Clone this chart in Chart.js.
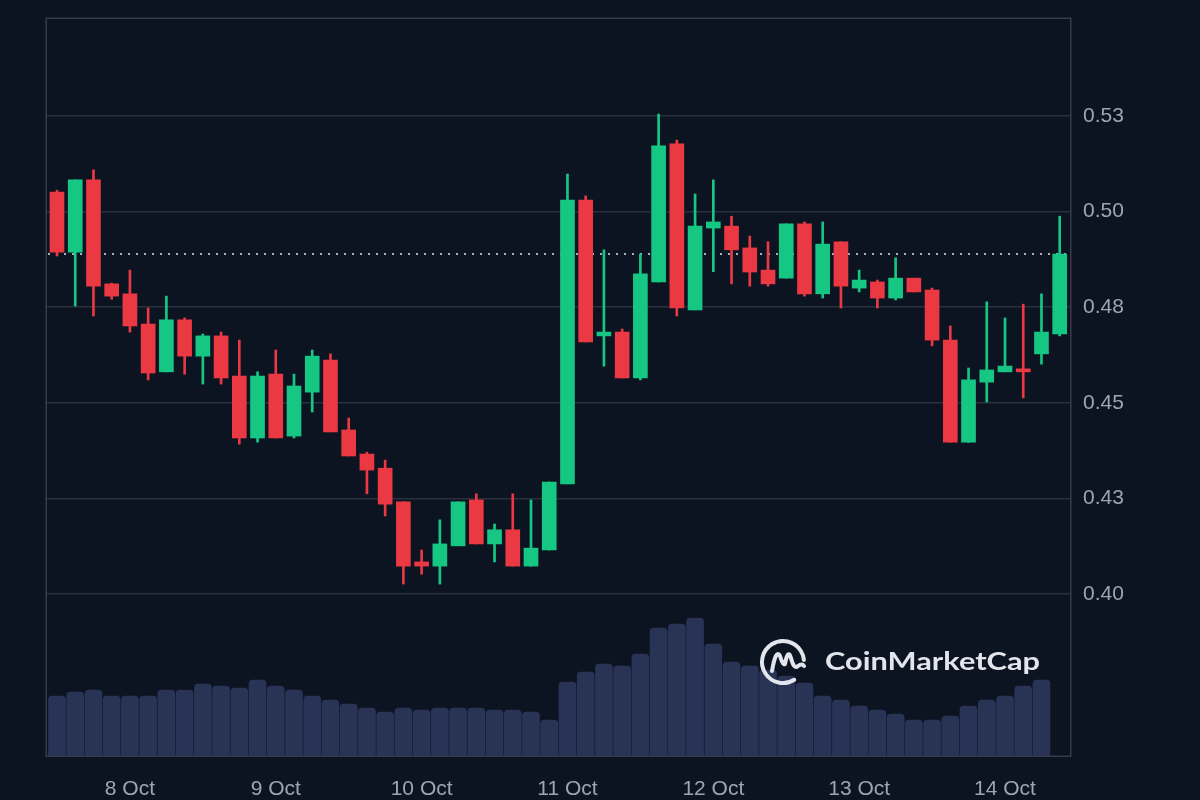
<!DOCTYPE html>
<html>
<head>
<meta charset="utf-8">
<script src="https://cdn.jsdelivr.net/npm/chart.js@4.4.1/dist/chart.umd.min.js"></script>
<style>
  html, body { margin: 0; padding: 0; background: #0d1421; }
  #wrap { width: 1200px; height: 800px; position: relative; }
  canvas { display: block; }
</style>
</head>
<body>
<div id="wrap"><canvas id="c" width="1200" height="800"></canvas></div>
<script>
// ---- Data (3-hour candles, 7 Oct 12:00 -> 14 Oct 09:00) ----
const opens  = [0.5051,0.4894,0.5083,0.4811,0.4785,0.4706,0.4581,0.4717,0.4622,0.4675,
                0.4570,0.4408,0.4575,0.4413,0.4528,0.4612,0.4429,0.4366,0.4329,0.4241,
                0.4084,0.4073,0.4126,0.4246,0.4131,0.4168,0.4073,0.4115,0.4288,0.5030,
                0.4675,0.4685,0.4565,0.4816,0.5177,0.4743,0.4957,0.4962,0.4905,0.4847,
                0.4826,0.4968,0.4785,0.4921,0.4800,0.4816,0.4774,0.4826,0.4795,0.4664,
                0.4397,0.4554,0.4581,0.4586,0.4628,0.4680];
const highs  = [0.5056,0.5083,0.5109,0.4813,0.4847,0.4748,0.4779,0.4722,0.4680,0.4685,
                0.4664,0.4581,0.4638,0.4575,0.4638,0.4628,0.4460,0.4371,0.4350,0.4241,
                0.4115,0.4194,0.4241,0.4262,0.4183,0.4262,0.4246,0.4293,0.5098,0.5041,
                0.4900,0.4693,0.4889,0.5255,0.5187,0.5046,0.5083,0.4988,0.4936,0.4921,
                0.4968,0.4973,0.4973,0.4921,0.4847,0.4821,0.4879,0.4826,0.4800,0.4701,
                0.4591,0.4764,0.4722,0.4758,0.4785,0.4988];
const lows   = [0.4884,0.4753,0.4727,0.4771,0.4685,0.4560,0.4581,0.4575,0.4549,0.4549,
                0.4392,0.4397,0.4408,0.4408,0.4476,0.4424,0.4361,0.4262,0.4204,0.4026,
                0.4052,0.4026,0.4126,0.4131,0.4084,0.4073,0.4073,0.4115,0.4288,0.4659,
                0.4596,0.4565,0.4560,0.4816,0.4727,0.4743,0.4843,0.4811,0.4805,0.4805,
                0.4826,0.4779,0.4774,0.4748,0.4790,0.4748,0.4769,0.4790,0.4649,0.4397,
                0.4397,0.4502,0.4581,0.4513,0.4601,0.4675];
const closes = [0.4894,0.5083,0.4805,0.4779,0.4701,0.4578,0.4717,0.4622,0.4675,0.4565,
                0.4408,0.4570,0.4408,0.4544,0.4622,0.4424,0.4361,0.4324,0.4235,0.4073,
                0.4073,0.4131,0.4241,0.4131,0.4168,0.4073,0.4120,0.4293,0.5030,0.4659,
                0.4685,0.4565,0.4837,0.5172,0.4748,0.4962,0.4973,0.4900,0.4842,0.4811,
                0.4968,0.4785,0.4915,0.4805,0.4821,0.4774,0.4826,0.4790,0.4664,0.4397,
                0.4560,0.4586,0.4596,0.4581,0.4685,0.4889];
// relative volume (no axis shown); last period has no bar
const volumes = [60,64,66,60,60,60,66,66,72,70,
                 68,76,70,66,60,56,52,48,44,48,
                 46,48,48,48,46,46,44,36,74,84,
                 92,90,102,128,132,138,112,94,90,86,
                 80,73,60,56,50,46,42,36,36,40,
                 50,56,60,70,76,null];
const dayTickIndex = [4, 12, 20, 28, 36, 44, 52];
const dayLabels = ['8 Oct', '9 Oct', '10 Oct', '11 Oct', '12 Oct', '13 Oct', '14 Oct'];
const priceTicks = [0.400, 0.425, 0.450, 0.475, 0.500, 0.525];
const priceTickLabels = ['0.40', '0.43', '0.45', '0.48', '0.50', '0.53'];

// ---- Styling ----
const BG = '#0d1421';
const GREEN = '#16c784';
const RED = '#ea3943';
const VOL = '#283355';
const GRID = '#2a2f3c';
const BORDER = '#363c4a';
const TICK = '#9ea4b5';
const FONT = '"Liberation Sans", Arial, sans-serif';

const idx = opens.map((_, i) => i);
const candleColors = idx.map(i => closes[i] >= opens[i] ? GREEN : RED);

const bgPlugin = {
  id: 'bg',
  beforeDraw(chart) {
    const ctx = chart.ctx;
    ctx.save();
    ctx.fillStyle = BG;
    ctx.fillRect(0, 0, chart.width, chart.height);
    ctx.restore();
  }
};

const lastPricePlugin = {
  id: 'lastPrice',
  beforeDatasetsDraw(chart) {
    const ctx = chart.ctx, a = chart.chartArea;
    const y = Math.round(chart.scales.y.getPixelForValue(closes[closes.length - 1]));
    ctx.save();
    ctx.strokeStyle = '#aab0be';
    ctx.lineWidth = 2;
    ctx.setLineDash([2, 6]);
    ctx.beginPath();
    ctx.moveTo(a.left + 1, y);
    ctx.lineTo(a.right, y);
    ctx.stroke();
    ctx.restore();
  }
};

const frameLogoPlugin = {
  id: 'frameLogo',
  afterDatasetsDraw(chart) {
    const ctx = chart.ctx, a = chart.chartArea;
    ctx.save();
    // frame
    ctx.strokeStyle = BORDER;
    ctx.lineWidth = 1.5;
    ctx.strokeRect(a.left - 0.75, a.top + 0.25, a.right - a.left + 0.5, a.bottom - a.top);
    // logo mark
    const cx = 783, cy = 662, r = 21;
    ctx.strokeStyle = '#e2e5ec';
    ctx.lineWidth = 4;
    ctx.lineCap = 'round';
    ctx.lineJoin = 'round';
    ctx.beginPath();
    ctx.arc(cx, cy, r, 0.32 * Math.PI, 1.97 * Math.PI, false);
    ctx.stroke();
    ctx.beginPath();
    ctx.moveTo(cx - 11, cy + 9);
    ctx.quadraticCurveTo(cx - 7, cy - 14, cx - 3, cy - 6);
    ctx.quadraticCurveTo(cx, cy + 4, cx + 2, cy + 2);
    ctx.quadraticCurveTo(cx + 5, cy - 14, cx + 8, cy - 4);
    ctx.quadraticCurveTo(cx + 11, cy + 8, cx + 15, cy + 4);
    ctx.quadraticCurveTo(cx + 19, cy + 1, cx + 21, cy + 4);
    ctx.stroke();
    // logo text
    ctx.fillStyle = '#e2e5ec';
    ctx.font = 'bold 24px Lato, "Open Sans", sans-serif';
    ctx.textBaseline = 'alphabetic';
    const txt = 'CoinMarketCap';
    const w = ctx.measureText(txt).width;
    const target = 215;
    ctx.translate(825, 670);
    ctx.scale(target / w, 1);
    ctx.fillText(txt, 0, 0);
    ctx.restore();
  }
};

new Chart(document.getElementById('c'), {
  type: 'bar',
  data: {
    datasets: [
      {
        label: 'Volume',
        data: idx.map(i => ({ x: i, y: volumes[i] })),
        yAxisID: 'yVol',
        backgroundColor: VOL,
        barThickness: 17,
        borderRadius: { topLeft: 4, topRight: 4, bottomLeft: 0, bottomRight: 0 },
        borderSkipped: 'bottom',
        grouped: false,
        order: 3
      },
      {
        label: 'Wick',
        data: idx.map(i => ({ x: i, y: [lows[i], highs[i]] })),
        yAxisID: 'y',
        backgroundColor: candleColors,
        barThickness: 2,
        grouped: false,
        order: 2
      },
      {
        label: 'Body',
        data: idx.map(i => ({ x: i, y: [opens[i], closes[i]] })),
        yAxisID: 'y',
        backgroundColor: candleColors,
        barThickness: 14,
        minBarLength: 3,
        grouped: false,
        order: 1
      }
    ]
  },
  options: {
    responsive: false,
    animation: false,
    devicePixelRatio: 1,
    layout: { padding: { left: 47, top: 18, right: 0, bottom: 0 } },
    plugins: { legend: { display: false }, tooltip: { enabled: false } },
    scales: {
      x: {
        type: 'linear',
        min: -0.5486,
        max: 55.62,
        offset: false,
        grid: { display: false, offset: false },
        border: { display: false },
        afterBuildTicks: s => { s.ticks = dayTickIndex.map(v => ({ value: v })); },
        afterFit: s => { s.height = 44; s.paddingLeft = 0; s.paddingRight = 0; },
        ticks: {
          autoSkip: false,
          maxRotation: 0,
          padding: 13,
          color: TICK,
          font: { family: FONT, size: 21 },
          callback: (v, i) => dayLabels[i]
        }
      },
      y: {
        type: 'linear',
        position: 'right',
        min: 0.35764,
        max: 0.55063,
        grid: { color: GRID, lineWidth: 1.5, drawTicks: false },
        border: { display: false },
        afterBuildTicks: s => { s.ticks = priceTicks.map(v => ({ value: v })); },
        afterFit: s => { s.width = 129; s.paddingTop = 0; s.paddingBottom = 0; },
        ticks: {
          padding: 12,
          color: TICK,
          font: { family: FONT, size: 21 },
          callback: (v, i) => priceTickLabels[i]
        }
      },
      yVol: {
        type: 'linear',
        display: false,
        min: 0,
        max: 738
      }
    }
  },
  plugins: [bgPlugin, lastPricePlugin, frameLogoPlugin]
});
</script>
</body>
</html>
